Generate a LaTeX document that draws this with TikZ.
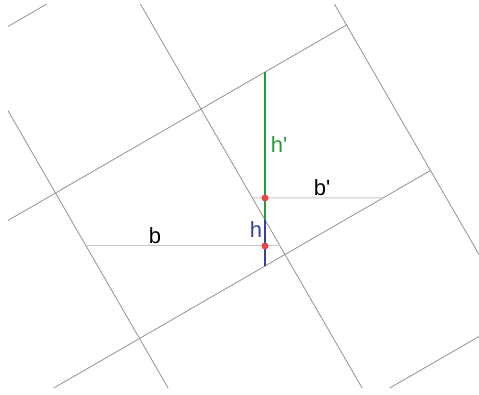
\documentclass[tikz,border=0pt]{standalone}
\usepackage{fontspec}
\setmainfont{Liberation Sans}
\definecolor{gridgray}{RGB}{145,145,145}
\definecolor{basegray}{RGB}{200,200,200}
\definecolor{hgreen}{RGB}{40,150,60}
\definecolor{hblue}{RGB}{55,65,160}
\definecolor{dotred}{RGB}{230,70,70}
\begin{document}
\begin{tikzpicture}[x=1pt,y=1pt,
    gridline/.style={gridgray, line width=0.8pt},
    baseline/.style={basegray, line width=1pt},
    height/.style={line width=1.6pt},
    dot/.style={circle, fill=dotred, inner sep=0pt, minimum size=7pt},
    lbl/.style={font=\fontsize{22}{24}\selectfont, inner sep=0pt}]
    % Rahmen
    \useasboundingbox (0,0) rectangle (479,394);
    \begin{scope}
    \clip (8,7) rectangle (479,389);
    % gedrehtes Gitter
    \begin{scope}[shift={(201,285)}, rotate=30]
        \foreach \k in {-1,0,1,2}
            \draw[gridline] (-700,-168*\k) -- (168,-168*\k);
        \foreach \j in {-1,0,1}
            \draw[gridline] (168*\j,-700) -- (168*\j,700);
        \coordinate (r2a) at (-700,0);
        \coordinate (r2b) at (700,0);
        \coordinate (r3a) at (-700,-168);
        \coordinate (r3b) at (700,-168);
        \coordinate (fAa) at (-168,-700);
        \coordinate (fAb) at (-168,700);
        \coordinate (fBa) at (0,-700);
        \coordinate (fBb) at (0,700);
    \end{scope}
    \end{scope}

    % Hoehe und Grundlinien
    \coordinate (vlo) at (265,0);
    \coordinate (vhi) at (265,394);
    \coordinate (blo) at (0,148);
    \coordinate (bhi) at (479,148);
    \coordinate (bplo) at (0,196);
    \coordinate (bphi) at (479,196);
    \coordinate (htop) at (intersection of vlo--vhi and r2a--r2b);
    \coordinate (hmid) at (intersection of vlo--vhi and fBa--fBb);
    \coordinate (hbot) at (intersection of vlo--vhi and r3a--r3b);
    \coordinate (bL) at (intersection of blo--bhi and fAa--fAb);
    \coordinate (bR) at (intersection of blo--bhi and fBa--fBb);
    \coordinate (bpL) at (intersection of bplo--bphi and fBa--fBb);
    \coordinate (bpR) at (intersection of bplo--bphi and r3a--r3b);

    \draw[baseline] (bL) -- (bR);
    \draw[baseline] (bpL) -- (bpR);
    \draw[height, hgreen] (htop) -- (hmid);
    \draw[height, hblue] (hmid) -- (hbot);

    \node[dot] (p) at (intersection of vlo--vhi and blo--bhi) {};
    \node[dot] (pp) at (intersection of vlo--vhi and bplo--bphi) {};

    % Beschriftungen
    \node[lbl] (lb) at (155,158) {b};
    \node[lbl] (lbp) at (322,206) {b\textquotesingle};
    \node[lbl, text=hblue] (lh) at (256,164) {h};
    \node[lbl, text=hgreen] (lhp) at (279,249) {h\textquotesingle};
\end{tikzpicture}
\end{document}
